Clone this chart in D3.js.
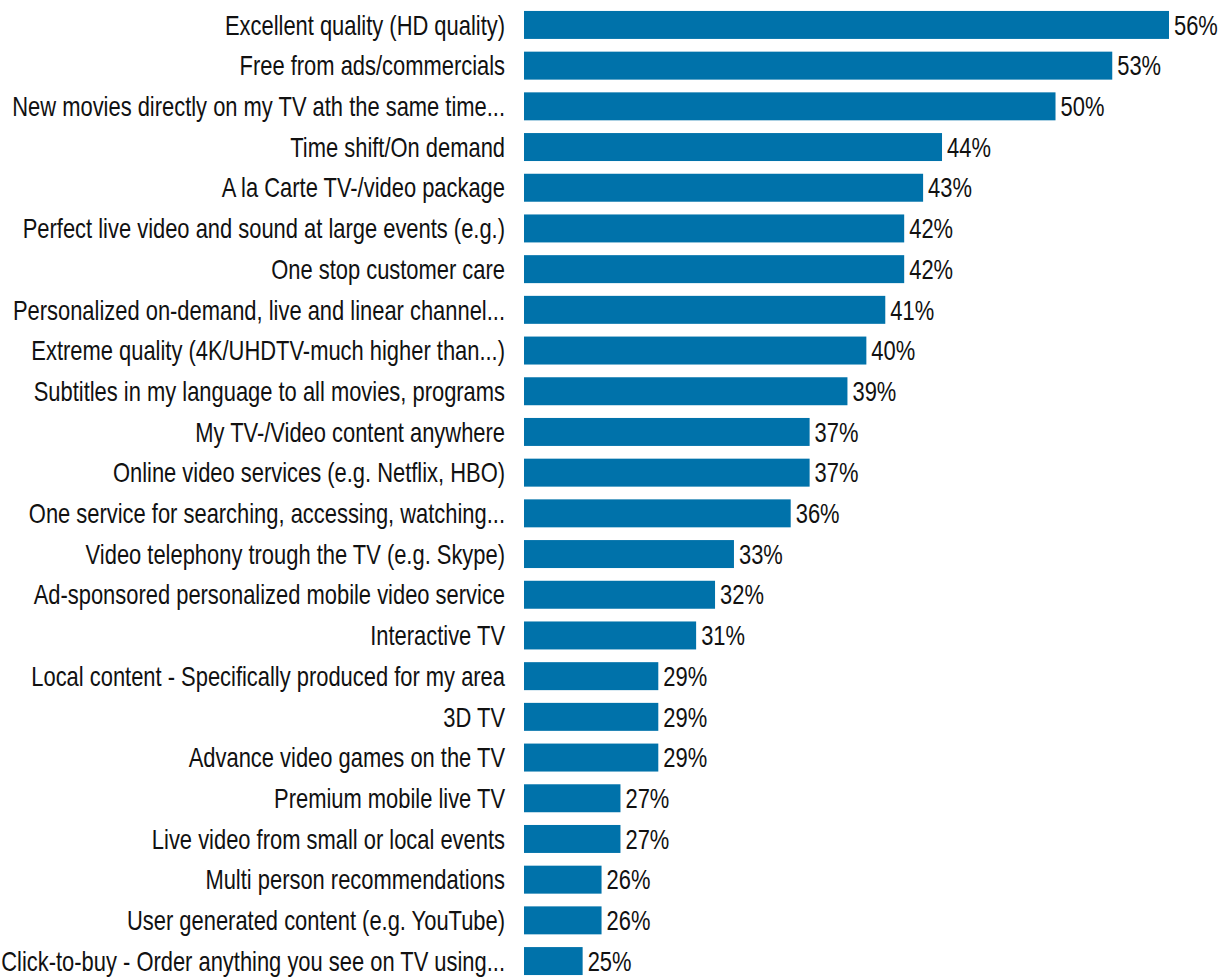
<!DOCTYPE html>
<html>
<head>
<meta charset="utf-8">
<script src="https://cdnjs.cloudflare.com/ajax/libs/d3/7.8.5/d3.min.js"></script>
<style>
  html, body { margin: 0; padding: 0; background: #fff; }
  svg text { font-family: "Liberation Sans", Arial, sans-serif; fill: #111; }
</style>
</head>
<body>
<svg id="chart" width="1225" height="978"></svg>
<script>
const categories = [
  "Excellent quality (HD quality)",
  "Free from ads/commercials",
  "New movies directly on my TV ath the same time...",
  "Time shift/On demand",
  "A la Carte TV-/video package",
  "Perfect live video and sound at large events (e.g.)",
  "One stop customer care",
  "Personalized on-demand, live and linear channel...",
  "Extreme quality (4K/UHDTV-much higher than...)",
  "Subtitles in my language to all movies, programs",
  "My TV-/Video content anywhere",
  "Online video services (e.g. Netflix, HBO)",
  "One service for searching, accessing, watching...",
  "Video telephony trough the TV (e.g. Skype)",
  "Ad-sponsored personalized mobile video service",
  "Interactive TV",
  "Local content - Specifically produced for my area",
  "3D TV",
  "Advance video games on the TV",
  "Premium mobile live TV",
  "Live video from small or local events",
  "Multi person recommendations",
  "User generated content (e.g. YouTube)",
  "Click-to-buy - Order anything you see on TV using..."
];
const values = [56, 53, 50, 44, 43, 42, 42, 41, 40, 39, 37, 37, 36, 33, 32, 31, 29, 29, 29, 27, 27, 26, 26, 25];
const valueLabels = values.map(v => v + "%");

const svg = d3.select("#chart");
const fontSize = 27;
const x = d3.scaleLinear().domain([21.9, 56]).range([524, 1169]);
const y = d3.scaleBand().domain(categories).range([4.6, 981.4]).paddingInner(0.3127).paddingOuter(0.156);

// condensed look: uniform horizontal squeeze so the longest label spans the label column
const probe = svg.append("text").attr("font-size", fontSize).text(categories[2]);
const k = 493 / probe.node().getComputedTextLength();
probe.remove();

const rows = svg.selectAll("g.row").data(categories).join("g").attr("class", "row");

rows.append("rect")
  .attr("x", x(x.domain()[0]))
  .attr("y", d => y(d))
  .attr("height", y.bandwidth())
  .attr("width", (d, i) => x(values[i]) - x(x.domain()[0]))
  .attr("fill", "#0072aa");

rows.append("text")
  .attr("transform", d => `translate(505,${y(d) + y.bandwidth() / 2}) scale(${k},1)`)
  .attr("dy", "0.36em")
  .attr("text-anchor", "end")
  .attr("font-size", fontSize)
  .text(d => d);

rows.append("text")
  .attr("transform", (d, i) => `translate(${x(values[i]) + 5},${y(d) + y.bandwidth() / 2}) scale(${k},1)`)
  .attr("dy", "0.36em")
  .attr("text-anchor", "start")
  .attr("font-size", fontSize)
  .text((d, i) => valueLabels[i]);
</script>
</body>
</html>
